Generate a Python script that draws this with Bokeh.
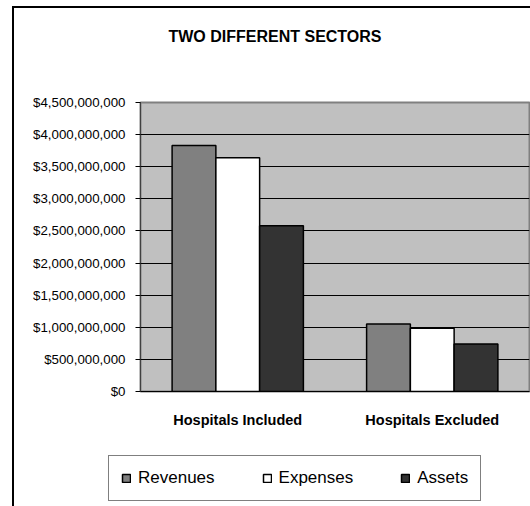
from bokeh.plotting import figure
from bokeh.layouts import column
from bokeh.models import (ColumnDataSource, FactorRange, NumeralTickFormatter, FixedTicker,
                          Legend, LegendItem, Label, Range1d)
from bokeh.transform import dodge
from bokeh.embed import file_html
from bokeh.resources import INLINE

title_text = "TWO DIFFERENT SECTORS"
categories = ["Hospitals Included", "Hospitals Excluded"]
revenues = [3.83e9, 1.05e9]
expenses = [3.64e9, 0.985e9]
assets = [2.58e9, 0.74e9]
series_names = ["Revenues", "Expenses", "Assets"]
series_colors = ["#808080", "#FFFFFF", "#333333"]
y_ticks = [i * 5e8 for i in range(10)]

src = ColumnDataSource(dict(cat=categories, Revenues=revenues, Expenses=expenses, Assets=assets))

W = 530
LEFT_LINE = "linear-gradient(black,black) 12px 0 / 2px 100% no-repeat"
TOP_LINES = ("linear-gradient(black,black) 12px 6px / 2px 100% no-repeat, "
             "linear-gradient(black,black) 12px 6px / 100% 2px no-repeat")


def blank(h, bg, x_range, y_range):
    f = figure(width=W, height=h, output_backend="svg", toolbar_location=None,
               x_range=x_range, y_range=y_range, frame_align=False,
               min_border=0, min_border_left=0, min_border_right=0,
               min_border_top=0, min_border_bottom=0)
    f.axis.visible = False
    f.grid.visible = False
    f.outline_line_color = None
    f.background_fill_alpha = 0
    f.border_fill_alpha = 0
    f.styles = {"background": bg + ", white"}
    return f


# ---- title strip ----
t = blank(60, TOP_LINES, Range1d(0, W), Range1d(60, 0))
t.add_layout(Label(x=274.5, y=36, text=title_text, text_font="Liberation Sans",
                   text_font_size="16px", text_font_style="bold", text_color="black",
                   text_align="center", text_baseline="middle"))
t.scatter([0], [0], alpha=0)

# ---- main chart ----
p = figure(x_range=FactorRange(*categories, range_padding=0), y_range=(0, 4.5e9),
           width=W, height=392, output_backend="svg", toolbar_location=None, frame_align=False,
           min_border_left=140, min_border_right=1, min_border_top=42, min_border_bottom=61)
p.background_fill_color = "#C0C0C0"
p.border_fill_alpha = 0
p.styles = {"background": LEFT_LINE + ", white"}
p.outline_line_color = "#808080"
p.outline_line_width = 2

bw = 0.225
for i, (name, col) in enumerate(zip(series_names, series_colors)):
    p.vbar(x=dodge("cat", (i - 1) * bw, range=p.x_range), top=name, width=bw, source=src,
           fill_color=col, line_color="black", line_width=1.5)

p.xgrid.grid_line_color = None
p.ygrid.grid_line_color = "black"
p.ygrid.grid_line_width = 1
p.ygrid.ticker = FixedTicker(ticks=y_ticks)

p.yaxis.ticker = FixedTicker(ticks=y_ticks)
p.yaxis.formatter = NumeralTickFormatter(format="$0,0")
p.yaxis.major_label_text_font = "Liberation Sans"
p.yaxis.major_label_text_font_size = "13.3px"
p.yaxis.major_label_text_color = "black"
p.yaxis.major_tick_out = 5
p.yaxis.major_tick_in = 0
p.yaxis.minor_tick_line_color = None
p.yaxis.major_label_standoff = 10
p.yaxis.axis_line_color = "#404040"

p.xaxis.major_label_text_font = "Liberation Sans"
p.xaxis.major_label_text_font_size = "14.5px"
p.xaxis.major_label_text_font_style = "bold"
p.xaxis.major_label_text_color = "black"
p.xaxis.major_tick_line_color = None
p.xaxis.major_tick_out = 0
p.xaxis.major_label_standoff = 20
p.xaxis.axis_line_color = "black"

# ---- legend strip ----
lx = FactorRange(*categories)
l = blank(54, LEFT_LINE, lx, Range1d(0, 4.5e9))
items = []
for i, (name, col) in enumerate(zip(series_names, series_colors)):
    r = l.vbar(x=dodge("cat", (i - 1) * bw, range=lx), top=name, width=bw, source=src,
               fill_color=col, line_color="black", line_width=1.5, visible=False)
    items.append(LegendItem(label=name, renderers=[r]))
legend = Legend(items=items, orientation="horizontal", location=(108, 5),
                glyph_width=10, glyph_height=10, label_standoff=7, spacing=47,
                padding=12, margin=0, border_line_color="black", border_line_width=1,
                label_text_font="Liberation Sans", label_text_font_size="17px",
                label_text_color="black",
                background_fill_color="white", background_fill_alpha=1,
                inactive_fill_alpha=0)
l.add_layout(legend, "center")

layout = column(t, p, l, spacing=0)
open("out.html", "w").write(file_html(layout, INLINE))
